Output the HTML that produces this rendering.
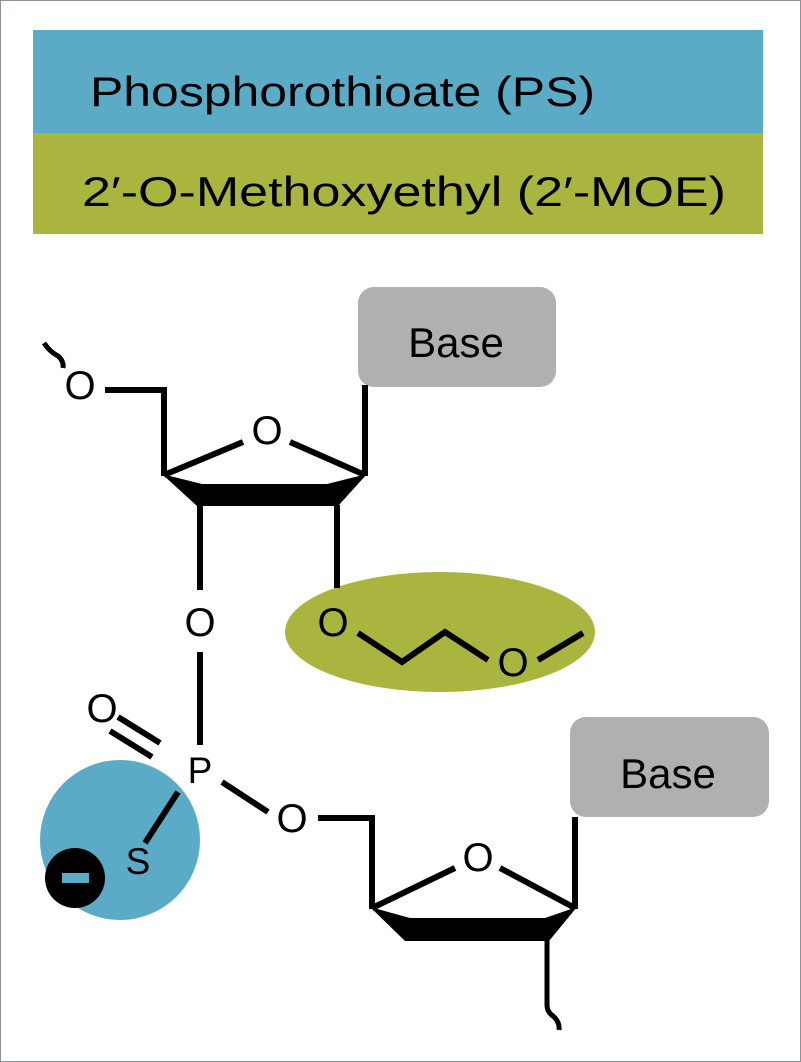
<!DOCTYPE html>
<html><head><meta charset="utf-8"><style>
html,body{margin:0;padding:0;background:#fff}
svg{display:block}
text{font-family:"Liberation Sans",sans-serif}
</style></head><body>
<svg width="801" height="1062" viewBox="0 0 801 1062" xmlns="http://www.w3.org/2000/svg">
<rect x="0.5" y="0.5" width="800" height="1061" fill="#fff" stroke="#8a9595" stroke-width="1"/>
<rect x="33" y="30" width="730" height="103" fill="#5baac6"/>
<rect x="33" y="133" width="730" height="101" fill="#a9b53f"/>
<text x="90" y="106" font-size="42" textLength="505" lengthAdjust="spacingAndGlyphs" fill="#000">Phosphorothioate (PS)</text>
<text x="82" y="206" font-size="42" textLength="644" lengthAdjust="spacingAndGlyphs" fill="#000">2′-O-Methoxyethyl (2′-MOE)</text>

<ellipse cx="440" cy="632" rx="155" ry="60" fill="#a9b53f"/>
<circle cx="120" cy="840" r="80" fill="#5baac6"/>

<rect x="358" y="287" width="198" height="100" rx="16" fill="#b0b0b0"/>
<text x="456" y="357" font-size="42" text-anchor="middle" fill="#000">Base</text>
<rect x="570" y="717" width="199" height="100" rx="16" fill="#b0b0b0"/>
<text x="668" y="788" font-size="42" text-anchor="middle" fill="#000">Base</text>

<g stroke="#000" stroke-width="6" fill="none" stroke-linecap="butt">
<path d="M44,343 Q50,352 58,356 Q64,361 63,368" stroke-width="5"/>
<path d="M105,390 H164 V476"/>
<path d="M164,475 L243,442"/>
<path d="M290,442 L365,475"/>
<path d="M365,476 V385"/>
<path d="M200,505 V590"/>
<path d="M337,505 V588"/>
<path d="M358,633 L402,662 L445,632 L488,660"/>
<path d="M538,660 L583,633"/>
<path d="M200,652 V745"/>
<path d="M118,717 L160,743"/>
<path d="M110,731 L152,757"/>
<path d="M178,792 L145,843"/>
<path d="M222,782 L268,812"/>
<path d="M318,818 H372 V909"/>
<path d="M372,908 L455,868"/>
<path d="M500,868 L575,908"/>
<path d="M575,909 V817"/>
<path d="M547,940 V1005 Q547,1012 553,1016 Q560,1022 559,1030" stroke-width="5"/>
</g>
<polygon points="162,474 202,484 327,484 367,474 338,506 197,506" fill="#000"/>
<polygon points="370,907 410,918 545,918 577,907 549,941 405,941" fill="#000"/>

<g font-size="40" fill="#000" text-anchor="middle">
<text x="80" y="399">O</text>
<text x="267" y="444">O</text>
<text x="200" y="636">O</text>
<text x="333" y="636">O</text>
<text x="513" y="676">O</text>
<text x="102" y="722">O</text>
<text x="200" y="783" font-size="37">P</text>
<text x="292" y="832">O</text>
<text x="478" y="871">O</text>
<text x="138" y="874" font-size="37">S</text>
</g>
<circle cx="75" cy="878" r="30" fill="#000"/>
<rect x="62" y="873" width="27" height="10" fill="#5baac6"/>
</svg>
</body></html>
